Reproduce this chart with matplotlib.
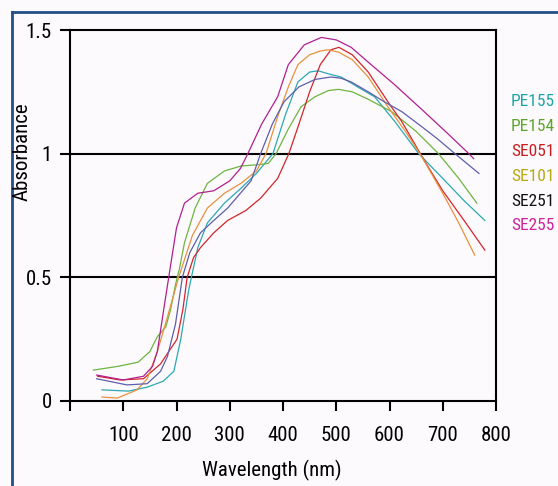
import matplotlib
matplotlib.use("Agg")
import matplotlib.pyplot as plt
from matplotlib import font_manager
from matplotlib.lines import Line2D

# Data
pe155_x = [60, 110, 145, 175, 195, 208, 223, 240, 258, 290, 321, 350, 381, 405, 428, 450, 466, 490, 509, 540, 572, 610, 655, 700, 740, 779]
pe155_y = [0.045, 0.04, 0.056, 0.08, 0.12, 0.25, 0.45, 0.62, 0.72, 0.80, 0.86, 0.92, 1.0, 1.16, 1.29, 1.33, 1.335, 1.32, 1.31, 1.27, 1.23, 1.13, 1.0, 0.9, 0.81, 0.73]

pe154_x = [44, 90, 128, 150, 164, 180, 189, 198, 205, 215, 235, 258, 290, 321, 350, 372, 387, 410, 434, 460, 485, 504, 530, 560, 604, 650, 692, 730, 764]
pe154_y = [0.125, 0.14, 0.157, 0.2, 0.26, 0.3, 0.37, 0.47, 0.53, 0.64, 0.78, 0.88, 0.93, 0.95, 0.955, 0.96, 1.0, 1.1, 1.19, 1.23, 1.255, 1.26, 1.25, 1.22, 1.17, 1.09, 1.0, 0.9, 0.80]

se051_x = [52, 94, 138, 170, 201, 212, 220, 232, 245, 270, 296, 330, 358, 390, 411, 430, 450, 470, 490, 505, 530, 560, 600, 623, 666, 700, 740, 779]
se051_y = [0.10, 0.085, 0.09, 0.15, 0.25, 0.37, 0.5, 0.58, 0.62, 0.68, 0.73, 0.77, 0.82, 0.9, 1.0, 1.12, 1.25, 1.36, 1.42, 1.43, 1.40, 1.33, 1.2, 1.13, 0.97, 0.85, 0.73, 0.61]

se101_x = [60, 89, 126, 145, 164, 183, 204, 230, 258, 290, 321, 350, 368, 390, 410, 428, 450, 470, 485, 505, 530, 560, 600, 630, 660, 700, 730, 760]
se101_y = [0.016, 0.012, 0.045, 0.09, 0.2, 0.34, 0.5, 0.67, 0.78, 0.84, 0.88, 0.93, 1.0, 1.15, 1.27, 1.36, 1.40, 1.415, 1.42, 1.41, 1.38, 1.31, 1.18, 1.09, 0.99, 0.84, 0.72, 0.59]

se251_x = [50, 107, 145, 170, 183, 198, 211, 225, 245, 270, 296, 320, 340, 358, 380, 402, 430, 460, 490, 509, 528, 560, 590, 623, 660, 690, 723, 768]
se251_y = [0.09, 0.065, 0.07, 0.12, 0.18, 0.31, 0.5, 0.6, 0.68, 0.73, 0.78, 0.84, 0.89, 1.0, 1.12, 1.21, 1.27, 1.3, 1.31, 1.305, 1.29, 1.25, 1.21, 1.17, 1.11, 1.06, 1.0, 0.92]

se255_x = [50, 100, 138, 155, 164, 176, 189, 200, 215, 240, 270, 300, 320, 334, 360, 390, 410, 440, 472, 500, 528, 560, 609, 660, 710, 749, 758]
se255_y = [0.105, 0.085, 0.10, 0.14, 0.2, 0.37, 0.55, 0.7, 0.8, 0.84, 0.85, 0.89, 0.94, 1.0, 1.12, 1.23, 1.36, 1.44, 1.47, 1.46, 1.43, 1.37, 1.28, 1.18, 1.08, 1.0, 0.98]

series_names = ["PE155", "PE154", "SE051", "SE101", "SE251", "SE255"]
line_colors = ["#2aa9b2", "#6db540", "#d3262b", "#e8913c", "#5d5fa9", "#b0208f"]
label_colors = ["#1aa5a8", "#5ca52a", "#c81e1e", "#b7aa10", "#111111", "#d0209a"]

x_ticks = [100, 200, 300, 400, 500, 600, 700, 800]
y_ticks = [0, 0.5, 1, 1.5]
y_ticklabels = ["0", "0.5", "1", "1.5"]

bg = "#fdfafd"

# prefer a narrow, regular-weight face like the original, if one is installed
regular = {f.name for f in font_manager.fontManager.ttflist
           if f.weight in (400, "normal", "regular", "book") and f.style == "normal"}
narrow = [n for n in ["Liberation Sans Narrow", "Roboto Condensed", "DejaVu Sans Condensed",
                      "Open Sans Condensed"] if n in regular]
family = narrow[:1] + ["DejaVu Sans"]
plt.rcParams["font.family"] = family
plt.rcParams["font.weight"] = "normal"
is_narrow = bool(narrow)
fs = 15 if is_narrow else 13

fig = plt.figure(figsize=(5.58, 4.86), dpi=100, facecolor=bg)
W, H = 558, 486
ax = fig.add_axes([70 / W, 1 - 401 / H, (496 - 70) / W, (401 - 30) / H], facecolor=bg)

all_x = [pe155_x, pe154_x, se051_x, se101_x, se251_x, se255_x]
all_y = [pe155_y, pe154_y, se051_y, se101_y, se251_y, se255_y]
for xs, ys, c in zip(all_x, all_y, line_colors):
    ax.plot(xs, ys, color=c, lw=0.9, solid_joinstyle="round")

ax.set_xlim(0, 800)
ax.set_ylim(0, 1.5)

# horizontal reference lines
for yv in [0.5, 1.0]:
    ax.axhline(yv, color="black", lw=1.5, zorder=1)

for s in ax.spines.values():
    s.set_color("black")
    s.set_linewidth(1.5)

ax.set_xticks([0] + x_ticks)
ax.set_xticklabels([""] + [str(t) for t in x_ticks])
ax.set_yticks(y_ticks)
ax.set_yticklabels(y_ticklabels)
ax.tick_params(axis="both", direction="out", length=7, width=1.5, labelsize=fs, colors="black")
ax.tick_params(axis="x", pad=11)
ax.tick_params(axis="y", pad=6)

fig.text(272 / W, 1 - 470 / H, "Wavelength (nm)", ha="center", va="center", fontsize=fs)
fig.text(22 / W, 1 - 152 / H, "Absorbance", ha="center", va="center", rotation=90, fontsize=fs)

# labels on the right edge
lab_fs = 12.5 if is_narrow else 10.5
for i, (name, c) in enumerate(zip(series_names, label_colors)):
    fig.text(511 / W, 1 - (101 + 25 * i) / H, name, ha="left", va="center", fontsize=lab_fs, color=c)

# dark blue frame on the left and top
frame = "#234f86"
fig.add_artist(Line2D([12 / W, 12 / W], [0, 1 - 12 / H], color=frame, lw=2, transform=fig.transFigure))
fig.add_artist(Line2D([12 / W, 1], [1 - 12 / H, 1 - 12 / H], color=frame, lw=2, transform=fig.transFigure))

fig.savefig("out.png", dpi=100, facecolor=bg)
